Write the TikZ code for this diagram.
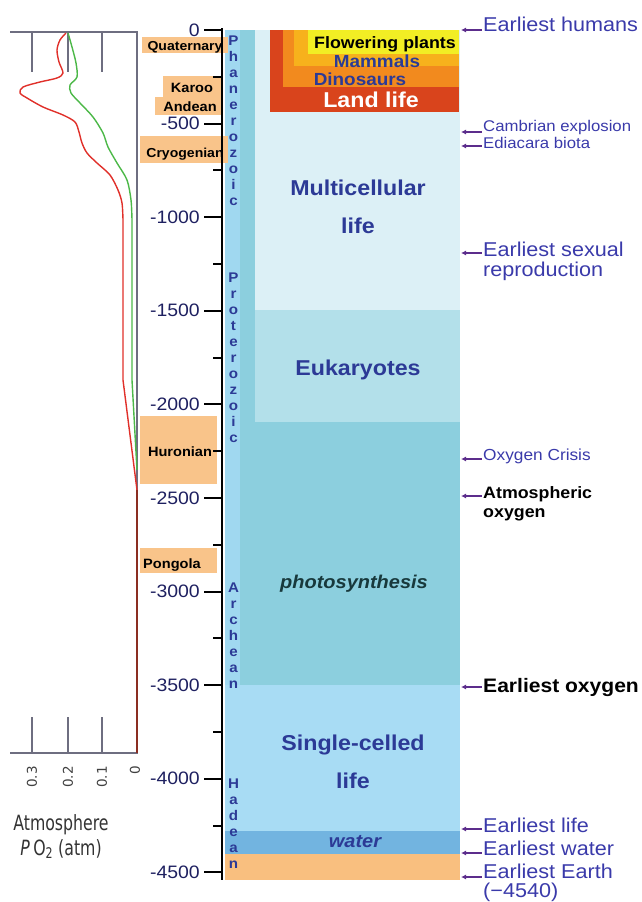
\documentclass[tikz,border=0pt]{standalone}
\usepackage{fontspec}
\setmainfont[FakeStretch=1.08]{Liberation Sans}
\newfontfamily\plotfont[FakeStretch=0.75]{DejaVu Sans}
\newfontfamily\tickfont{DejaVu Sans}
\usetikzlibrary{arrows.meta}

\definecolor{eracol}{HTML}{A0D8F0}
\definecolor{photo}{HTML}{8CCFDE}
\definecolor{euk}{HTML}{B3E0EA}
\definecolor{multi}{HTML}{DCF0F6}
\definecolor{single}{HTML}{A8DCF4}
\definecolor{waterc}{HTML}{72B4E0}
\definecolor{earthc}{HTML}{F9BF7F}
\definecolor{landred}{HTML}{D9441C}
\definecolor{dino}{HTML}{F28A1E}
\definecolor{mammal}{HTML}{F7B11C}
\definecolor{flower}{HTML}{F2EE24}
\definecolor{glacier}{HTML}{F9C48A}
\definecolor{lifeblue}{HTML}{2C3A96}
\definecolor{noteblue}{HTML}{3A3AAA}
\definecolor{arrowpurple}{HTML}{5C2D8C}
\definecolor{numnavy}{HTML}{1E2060}
\definecolor{photodark}{HTML}{18393C}
\definecolor{framegray}{HTML}{6E6E80}
\definecolor{otwo}{HTML}{E0302A}
\definecolor{ogreen}{HTML}{4CB848}
\definecolor{obase}{HTML}{8B2E22}

\begin{document}
\begin{tikzpicture}[x=1pt,y=-1pt,
    every node/.style={inner sep=0pt},
    glacial/.style={font=\fontsize{13.5}{14}\selectfont\bfseries, anchor=base},
    era/.style={font=\fontsize{14}{16}\selectfont\bfseries, text=lifeblue, align=center, anchor=base},
    life/.style={font=\fontsize{21.5}{38}\selectfont\bfseries, text=lifeblue, align=center, anchor=base},
    note/.style={font=\fontsize{20}{20}\selectfont, text=noteblue, align=left, anchor=base west},
    pointer/.style={draw=arrowpurple, line width=1.2pt, -{Latex[length=5pt,width=5pt]}, shorten <=1.5pt},
    num/.style={font=\fontsize{18}{18}\selectfont, text=numnavy, anchor=east},
    frame/.style={draw=framegray, line width=1.3pt}]
    \useasboundingbox (0,0) rectangle (642,902);

    % life bands
    \fill[eracol] (225,30) rectangle (240,685);
    \fill[photo] (240,30) rectangle (460,685);
    \fill[euk] (255,30) rectangle (460,422);
    \fill[multi] (255,30) rectangle (460,310);
    \fill[single] (225,685) rectangle (460,831);
    \fill[waterc] (225,831) rectangle (460,854);
    \fill[earthc] (225,854) rectangle (460,880);
    % land life
    \fill[landred] (270,30) rectangle (459,112);
    \fill[dino] (283,30) rectangle (459,87);
    \fill[mammal] (294,30) rectangle (459,66);
    \fill[flower] (308,30) rectangle (459,54);
    \node[font=\fontsize{16.5}{17}\selectfont\bfseries, anchor=base] (flowering) at (385,48) {Flowering plants};
    \node[font=\fontsize{17.5}{18}\selectfont\bfseries, text=lifeblue, anchor=base] (mammals) at (377,67) {Mammals};
    \node[font=\fontsize{17.5}{18}\selectfont\bfseries, text=lifeblue, anchor=base] (dinos) at (360,85) {Dinosaurs};
    \node[font=\fontsize{21.5}{22}\selectfont\bfseries, text=white, anchor=base] (landlife) at (371,107) {Land life};

    % multi-line nodes sit on the baseline of their last line
    \node[life] (multicell) at (358,233) {Multicellular\\life};
    \node[life] (eukary) at (358,375) {Eukaryotes};
    \node[life, font=\fontsize{18.5}{19}\selectfont\bfseries\itshape, text=photodark] (photos) at (354,588) {photosynthesis};
    \node[life] (singlecell) at (353,788) {Single-celled\\life};
    \node[life, font=\fontsize{18.5}{19}\selectfont\bfseries\itshape] (water) at (355,847) {water};

    % eons
    \node[era] (phan) at (233.5,205) {P\\h\\a\\n\\e\\r\\o\\z\\o\\i\\c};
    \node[era] (prot) at (233.5,442) {P\\r\\o\\t\\e\\r\\o\\z\\o\\i\\c};
    \node[era] (arch) at (233.5,688) {A\\r\\c\\h\\e\\a\\n};
    \node[era] (hade) at (233.5,868) {H\\a\\d\\e\\a\\n};

    % glaciations
    \fill[glacier] (142,37) rectangle (228,53);
    \fill[glacier] (163,76) rectangle (222,97);
    \fill[glacier] (155,97) rectangle (222,115);
    \fill[glacier] (140,136) rectangle (228,163);
    \fill[glacier] (140,416) rectangle (217,484);
    \fill[glacier] (140,548) rectangle (217,573);
    \node[glacial, font=\fontsize{13}{14}\selectfont\bfseries] (quat) at (185,50) {Quaternary};
    \node[glacial] (karoo) at (192,92) {Karoo};
    \node[glacial] (andean) at (190,111) {Andean};
    \node[glacial, font=\fontsize{13}{14}\selectfont\bfseries] (cryo) at (185,157) {Cryogenian};
    \node[glacial] (huron) at (180,456) {Huronian};
    \node[glacial] (pongola) at (172,568) {Pongola};

    % time axis
    \draw[line width=2.2pt] (222,28) -- (222,880);
    \foreach \a in {0,500,...,4500} {
      \pgfmathtruncatemacro{\lab}{-\a}
      \draw[line width=2pt] (204,{30+0.1872*\a}) -- (222,{30+0.1872*\a});
      \node[num] (n\a) at (200,{30+0.1872*\a}) {\lab};
    }
    \foreach \a in {250,750,...,4250}
      \draw[line width=2pt] (213,{30+0.1872*\a}) -- (222,{30+0.1872*\a});

    % oxygen plot
    \draw[frame] (10,32) -- (137,32) -- (137,753) -- (10,753);
    \draw[frame] (32,32) -- (32,72) (68,32) -- (68,72) (102,32) -- (102,72);
    \draw[frame] (32,753) -- (32,717) (68,753) -- (68,717) (102,753) -- (102,717);
    \node[font=\tickfont\fontsize{13.5}{14}\selectfont, text=black!75, rotate=90, anchor=east] (p3) at (32,766) {0.3};
    \node[font=\tickfont\fontsize{13.5}{14}\selectfont, text=black!75, rotate=90, anchor=east] (p2) at (68,766) {0.2};
    \node[font=\tickfont\fontsize{13.5}{14}\selectfont, text=black!75, rotate=90, anchor=east] (p1) at (102,766) {0.1};
    \node[font=\tickfont\fontsize{13.5}{14}\selectfont, text=black!75, rotate=90, anchor=east] (p0) at (135,766) {0};
    \node[font=\plotfont\fontsize{21}{25}\selectfont, text=black!80, align=center, anchor=base] (otitle) at (61,855) {Atmosphere\\\textit{P}\,O\textsubscript{2} (atm)};
    \draw[ogreen, line width=1.4pt] plot[smooth] coordinates {(68,33) (72,47) (76,63) (77,77) (70,85) (71,93) (80,103) (93,117) (103,133) (108,147) (117,163) (127,180) (131,200) (132,220)} -- (132,380) -- (137,470);
    \draw[otwo, line width=1.4pt] plot[smooth] coordinates {(66,33) (60,40) (57,50) (59,62) (63,73) (57,78) (40,82) (23,87) (20,93) (27,98) (43,107) (63,115) (75,122) (79,132) (82,143) (87,153) (97,163) (110,175) (118,190) (122,203) (123,220)} -- (123,380) -- (137,490);
    \draw[obase, line width=1.4pt] (137,490) -- (137,753);

    % events
    \coordinate (a1) at (461,30);
    \coordinate (a2) at (461,132);
    \coordinate (a3) at (461,146);
    \coordinate (a4) at (461,253);
    \coordinate (a5) at (461,459);
    \coordinate (a6) at (461,496);
    \coordinate (a7) at (461,687);
    \coordinate (a8) at (461,829);
    \coordinate (a9) at (461,853);
    \coordinate (a10) at (461,877);
    \node[note] (humans) at (483,31) {Earliest humans};
    \node[note, font=\fontsize{15.5}{16}\selectfont] (cambrian) at (483,131) {Cambrian explosion};
    \node[note, font=\fontsize{15.5}{16}\selectfont] (ediacara) at (483,148) {Ediacara biota};
    \node[note] (sexual) at (483,276) {Earliest sexual\\reproduction};
    \node[note, font=\fontsize{16}{17}\selectfont] (crisis) at (483,460) {Oxygen Crisis};
    \node[note, font=\fontsize{16.5}{18.5}\selectfont\bfseries, text=black] (atmos) at (483,517) {Atmospheric\\oxygen};
    \node[note, font=\fontsize{19.5}{17}\selectfont\bfseries, text=black] (firstox) at (483,692) {Earliest oxygen};
    \node[note] (firstlife) at (483,832) {Earliest life};
    \node[note] (firstwater) at (483,855) {Earliest water};
    \node[note, font=\fontsize{20}{19}\selectfont] (firstearth) at (483,897) {Earliest Earth\\(−4540)};
    \draw[pointer] (humans.west |- a1) -- (a1);
    \draw[pointer] (cambrian.west |- a2) -- (a2);
    \draw[pointer] (ediacara.west |- a3) -- (a3);
    \draw[pointer] (sexual.west |- a4) -- (a4);
    \draw[pointer] (crisis.west |- a5) -- (a5);
    \draw[pointer] (atmos.west |- a6) -- (a6);
    \draw[pointer] (firstox.west |- a7) -- (a7);
    \draw[pointer] (firstlife.west |- a8) -- (a8);
    \draw[pointer] (firstwater.west |- a9) -- (a9);
    \draw[pointer] (firstearth.west |- a10) -- (a10);
  \end{tikzpicture}
\end{document}
